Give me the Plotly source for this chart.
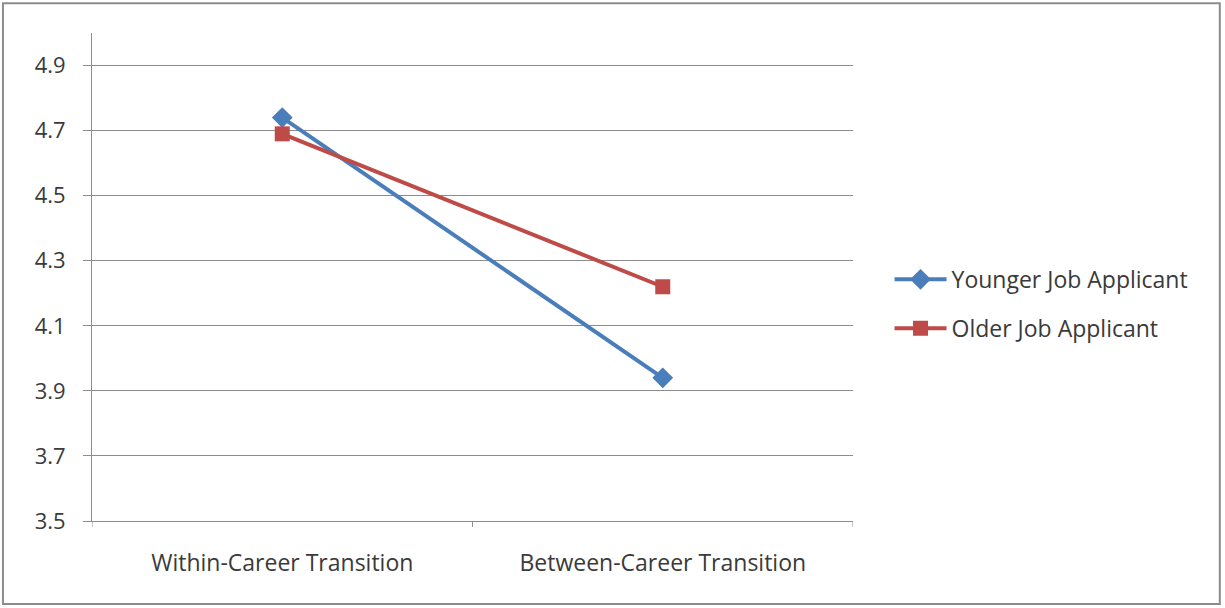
import plotly.graph_objects as go

# Category labels and mean ratings for each applicant group
categories = ["Within-Career Transition", "Between-Career Transition"]
younger = [4.74, 3.94]
older = [4.69, 4.22]
y_ticks = [3.5, 3.7, 3.9, 4.1, 4.3, 4.5, 4.7, 4.9]

FONT = "Open Sans, DejaVu Sans, sans-serif"
TEXT = "#3a3a3a"

fig = go.Figure()
fig.add_trace(go.Scatter(
    x=[0, 1], y=younger, name="Younger Job Applicant", mode="lines+markers",
    legendgroup="younger",
    line=dict(color="#4A7EBB", width=4),
    marker=dict(symbol="diamond", size=16, color="#4A7EBB"),
))
fig.add_trace(go.Scatter(
    x=[0, 1], y=older, name="Older Job Applicant", mode="lines+markers",
    legendgroup="older",
    line=dict(color="#BE4B48", width=4),
    marker=dict(symbol="square", size=15, color="#BE4B48"),
))

fig.update_layout(
    width=1225, height=608,
    margin=dict(l=92, r=372, t=33, b=87),
    paper_bgcolor="white", plot_bgcolor="white",
    font=dict(family=FONT, size=22, color=TEXT),
    xaxis=dict(
        range=[-0.5, 1.5], tickmode="array", tickvals=[0, 1], ticktext=categories,
        showgrid=False, zeroline=False, showline=True, linecolor="#8c8c8c", linewidth=1,
        ticks="", tickfont=dict(size=23, color=TEXT), ticklabelstandoff=21,
    ),
    yaxis=dict(
        range=[3.5, 5.0], tickmode="array", tickvals=y_ticks,
        ticktext=[f"{v:.1f}" for v in y_ticks],
        showgrid=True, gridcolor="#8c8c8c", gridwidth=1, zeroline=False,
        showline=True, linecolor="#8c8c8c", linewidth=1,
        ticks="outside", ticklen=8, tickcolor="#8c8c8c", tickfont=dict(size=22, color=TEXT),
        ticklabelstandoff=13,
    ),
    showlegend=True,
    legend=dict(
        x=1.048, y=0.445, xanchor="left", yanchor="middle", xref="paper",
        font=dict(size=23, color=TEXT), traceorder="grouped", tracegroupgap=16,
        itemwidth=52, bgcolor="rgba(0,0,0,0)", borderwidth=0,
    ),
)

# Category boundary tick marks on the x axis
for xb in [-0.5, 0.5, 1.5]:
    fig.add_shape(type="line", xref="x", yref="paper", x0=xb, x1=xb, y0=0, y1=-0.012,
                  line=dict(color="#8c8c8c", width=1))

# Outer frame around the whole chart
fig.add_shape(type="rect", xref="paper", yref="paper",
              x0=-0.117, x1=1.482, y0=-0.170, y1=1.061,
              line=dict(color="#8c8c8c", width=2), layer="below")

fig.write_html("out.html")
